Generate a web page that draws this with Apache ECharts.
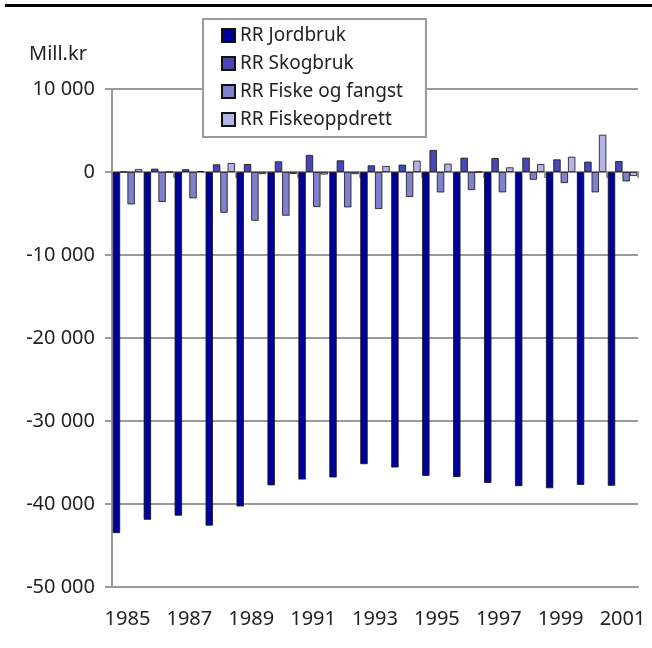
<!DOCTYPE html>
<html>
<head>
<meta charset="utf-8">
<script src="https://cdn.jsdelivr.net/npm/echarts@6/dist/echarts.min.js"></script>
<style>
  html, body { margin: 0; padding: 0; background: #fff; }
  #chart { width: 652px; height: 648px; }
</style>
</head>
<body>
<div id="chart"></div>
<script>
// values, mill. kr
const years = ['1985', '1986', '1987', '1988', '1989', '1990', '1991', '1992', '1993',
  '1994', '1995', '1996', '1997', '1998', '1999', '2000', '2001'];
const jordbruk = [-43500, -41900, -41400, -42600, -40300, -37750, -37050, -36800, -35200,
  -35600, -36600, -36750, -37450, -37850, -38100, -37700, -37800];
const skogbruk = [0, 400, 330, 920, 960, 1280, 2050, 1400, 800,
  880, 2650, 1720, 1680, 1720, 1520, 1240, 1320];
const fiske = [-3900, -3600, -3170, -4900, -5870, -5260, -4220, -4260, -4460,
  -3010, -2460, -2170, -2450, -930, -1330, -2450, -1130];
const fiskeoppdrett = [360, 0, 80, 1080, -250, -220, -300, -250, 720,
  1360, 1000, 0, 560, 960, 1840, 4490, -480];

const FONT = 'Noto Sans';
const GRAY = '#9a9a9a';

const chart = echarts.init(document.getElementById('chart'), null, { renderer: 'canvas' });

function bar(name, data, color) {
  return {
    name,
    type: 'bar',
    data,
    xAxisIndex: 0,
    barGap: '0%',
    barCategoryGap: '5%',
    itemStyle: { color, borderColor: '#111', borderWidth: 0.8 },
  };
}

chart.setOption({
  animation: false,
  backgroundColor: '#fff',
  textStyle: { fontFamily: FONT },
  title: {
    text: 'Mill.kr',
    left: 29,
    top: 44,
    padding: 0,
    textStyle: { fontFamily: FONT, fontSize: 20, fontWeight: 'normal', color: '#222' },
  },
  // thick rule across the top of the figure
  graphic: [{
    type: 'line',
    shape: { x1: 5, y1: 5.5, x2: 652, y2: 5.5 },
    style: { stroke: '#000', lineWidth: 3 },
  }],
  legend: {
    orient: 'vertical',
    left: 203,
    top: 19,
    padding: [7, 23, 8, 18],
    icon: 'rect',
    itemWidth: 13,
    itemHeight: 13,
    itemGap: 9,
    backgroundColor: '#fff',
    borderColor: GRAY,
    borderWidth: 2,
    borderRadius: 0,
    textStyle: { fontFamily: FONT, fontSize: 19, color: '#222' },
    data: ['RR Jordbruk', 'RR Skogbruk', 'RR Fiske og fangst', 'RR Fiskeoppdrett'],
  },
  grid: { left: 112, right: 14, top: 89, bottom: 61, containLabel: false },
  xAxis: [
    {
      type: 'category',
      data: years,
      position: 'bottom',
      axisLine: { onZero: false, lineStyle: { color: GRAY, width: 2 } },
      axisTick: { show: false },
      axisLabel: { interval: 1, margin: 22, fontSize: 20, color: '#222', fontFamily: FONT },
      splitLine: { show: false },
    },
    {
      // the zero line with its category ticks
      type: 'category',
      data: years,
      position: 'top',
      axisLine: { onZero: true, lineStyle: { color: GRAY, width: 2 } },
      axisTick: { show: true, inside: true, length: 6, lineStyle: { color: GRAY, width: 2 } },
      axisLabel: { show: false },
      splitLine: { show: false },
    },
  ],
  yAxis: {
    type: 'value',
    min: -50000,
    max: 10000,
    interval: 10000,
    axisLine: { show: true, lineStyle: { color: GRAY, width: 2 } },
    axisTick: { show: true, length: 7, lineStyle: { color: GRAY, width: 2 } },
    axisLabel: {
      margin: 17,
      fontSize: 20,
      color: '#222',
      fontFamily: FONT,
      formatter: (v) => String(v).replace(/\B(?=(\d{3})+(?!\d))/g, ' '),
    },
    splitLine: { show: true, lineStyle: { color: GRAY, width: 2 } },
  },
  series: [
    bar('RR Jordbruk', jordbruk, '#000099'),
    bar('RR Skogbruk', skogbruk, '#4848b4'),
    bar('RR Fiske og fangst', fiske, '#8080cc'),
    bar('RR Fiskeoppdrett', fiskeoppdrett, '#b4b4e4'),
  ],
});
</script>
</body>
</html>
